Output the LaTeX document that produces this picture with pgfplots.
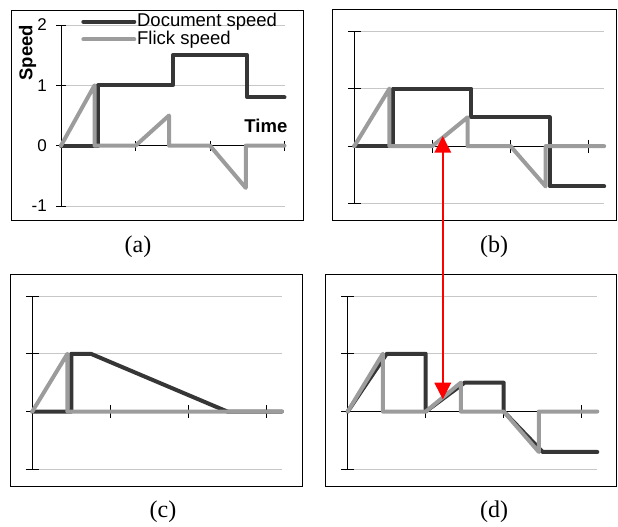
\documentclass[border=0pt]{standalone}
\usepackage{fontspec}
\setmainfont{Liberation Serif}
\newfontfamily\arial{Liberation Sans}
\usepackage{pgfplots}
\pgfplotsset{compat=1.18}
\usetikzlibrary{arrows.meta}
\definecolor{docc}{HTML}{363636}
\definecolor{flkc}{HTML}{9C9C9C}
\pgfplotsset{
  panel/.style={
    scale only axis, axis lines=middle, anchor=south west,
    xmin=0, xmax=3.2, ymin=-1, ymax=2,
    xtick={1,2,3}, ytick={-1,0,1,2},
    xticklabels={}, yticklabels={},
    hide obscured x ticks=false, hide obscured y ticks=false,
    tick align=center, major tick length=13pt,
    tick style={black, line width=0.9pt},
    axis line style={black, line width=0.9pt, -},
    ymajorgrids, major grid style={black!22, line width=0.6pt},
    clip=false,
  },
  doc/.style={docc, line width=4pt, line join=round, line cap=round},
  flk/.style={flkc, line width=4pt, line join=round, line cap=round},
}
\begin{document}
\begin{tikzpicture}
\useasboundingbox (0,0) rectangle (618pt,-527pt);
% chart frames
\draw[line width=0.9pt] (11pt,-10pt) rectangle (303pt,-220pt);
\draw[line width=0.9pt] (332.7pt,-9.3pt) rectangle (616.8pt,-220.7pt);
\draw[line width=0.9pt] (10.7pt,-274.3pt) rectangle (302.7pt,-486.7pt);
\draw[line width=0.9pt] (325.7pt,-274.3pt) rectangle (616.8pt,-486.7pt);

% (a)
\begin{axis}[panel, at={(61pt,-206pt)}, width=223.5pt, height=181pt, xmax=3,
  major tick length=10pt,
  yticklabels={-1,0,1,2},
  yticklabel style={font=\arial\fontsize{17}{17}\selectfont, anchor=east, inner sep=0pt, xshift=-9pt},
  ylabel={Speed}, xlabel={Time},
  every axis y label/.style={at={(axis cs:-0.45,1.54)}, rotate=90, anchor=center, font=\arial\bfseries\fontsize{18.5}{18.5}\selectfont},
  every axis x label/.style={at={(axis cs:2.75,0.32)}, anchor=center, font=\arial\bfseries\fontsize{18.5}{18.5}\selectfont},
  legend style={at={(axis description cs:0.09,1.065)}, anchor=north west, draw=none, fill=none,
    inner sep=0pt, row sep=1pt, column sep=0pt,
    nodes={inner sep=0.8pt, text height=12.6pt, text depth=2.4pt},
    font=\arial\fontsize{18.5}{18.5}\selectfont, cells={anchor=west}},
  legend image code/.code={\draw[#1, line cap=round] (0pt,0pt) -- (51pt,0pt);},
]
\addplot[doc] coordinates {(0,0) (0.5,0) (0.5,1) (1.5,1) (1.5,1.5) (2.5,1.5) (2.5,0.8) (3,0.8)};
\addplot[flk] coordinates {(0,0) (0.45,1) (0.45,0) (1,0) (1.45,0.5) (1.45,0) (2,0) (2.48,-0.7) (2.48,0) (3,0)};
\legend{Document speed, Flick speed}
\end{axis}

% (b)
\begin{axis}[panel, at={(354.3pt,-203.7pt)}, width=249.9pt, height=172.7pt]
\addplot[doc] coordinates {(0,0) (0.5,0) (0.5,1) (1.5,1) (1.5,0.5) (2.5,0.5) (2.5,-0.7) (3.2,-0.7)};
\addplot[flk] coordinates {(0,0) (0.45,1) (0.45,0) (1,0) (1.45,0.5) (1.45,0) (2,0) (2.45,-0.7) (2.45,0) (3.2,0)};
\coordinate (btip) at (axis cs:1.133,0.174);
\end{axis}

% (c)
\begin{axis}[panel, at={(32.3pt,-469.3pt)}, width=249.6pt, height=173.3pt]
\addplot[doc] coordinates {(0,0) (0.5,0) (0.5,1) (0.75,1) (2.5,0) (3.2,0)};
\addplot[flk] coordinates {(0,0) (0.45,1) (0.45,0) (3.2,0)};
\end{axis}

% (d)
\begin{axis}[panel, at={(347.7pt,-469.3pt)}, width=249.6pt, height=173.3pt]
\addplot[doc] coordinates {(0,0) (0.5,1) (1,1) (1,0) (1.5,0.5) (2,0.5) (2,0) (2.5,-0.7) (3.2,-0.7)};
\addplot[flk] coordinates {(0,0) (0.45,1) (0.45,0) (1,0) (1.45,0.5) (1.45,0) (2,0) (2.45,-0.7) (2.45,0) (3.2,0)};
\coordinate (dtip) at (axis cs:1.218,0.213);
\end{axis}

\draw[red, line width=1.8pt, {Triangle[width=16.5pt,length=16.5pt]}-{Triangle[width=16.5pt,length=16.5pt]}] (btip) -- (btip |- dtip);

% panel captions
\node[font=\fontsize{24}{24}\selectfont] at (138pt,-247pt) {(a)};
\node[font=\fontsize{24}{24}\selectfont] at (494pt,-247pt) {(b)};
\node[font=\fontsize{24}{24}\selectfont] at (163pt,-512pt) {(c)};
\node[font=\fontsize{24}{24}\selectfont] at (494pt,-512pt) {(d)};
\end{tikzpicture}
\end{document}
